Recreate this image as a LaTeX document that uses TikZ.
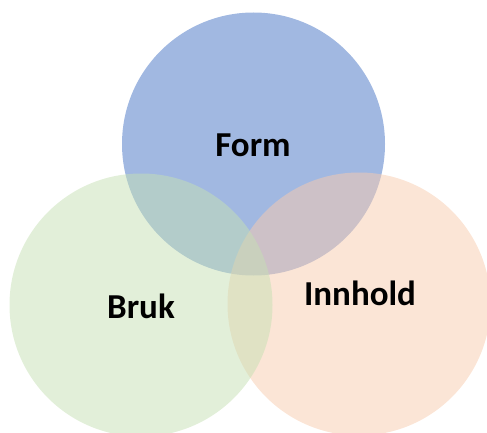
\documentclass[tikz,border=0pt]{standalone}
\usepackage{fontspec}
\setmainfont{Carlito}
\definecolor{formblue}{HTML}{4472C4}
\definecolor{brukgreen}{HTML}{C5E0B4}
\definecolor{innholdorange}{HTML}{F8CBAD}
\begin{document}
\begin{tikzpicture}[x=1pt,y=1pt,
    set/.style={circle,minimum size=263pt,inner sep=0pt,fill opacity=0.5},
    setlabel/.style={anchor=base,inner sep=0pt,font=\fontsize{35}{40}\selectfont\bfseries}]
    % Fix canvas
    \useasboundingbox (0,0) rectangle (487,432);
    \clip (0,0) rectangle (487,432);

    % Draw circles
    \node[set,fill=formblue] (form) at (253.5,288) {};
    \node[set,fill=innholdorange] (innhold) at (359,128) {};
    \node[set,fill=brukgreen] (bruk) at (141,127) {};

    % Label circles
    \node[setlabel] (formlabel) at (253,276) {Form};
    \node[setlabel] (bruklabel) at (141,114) {Bruk};
    \node[setlabel] (innholdlabel) at (360,127) {Innhold};
\end{tikzpicture}
\end{document}
